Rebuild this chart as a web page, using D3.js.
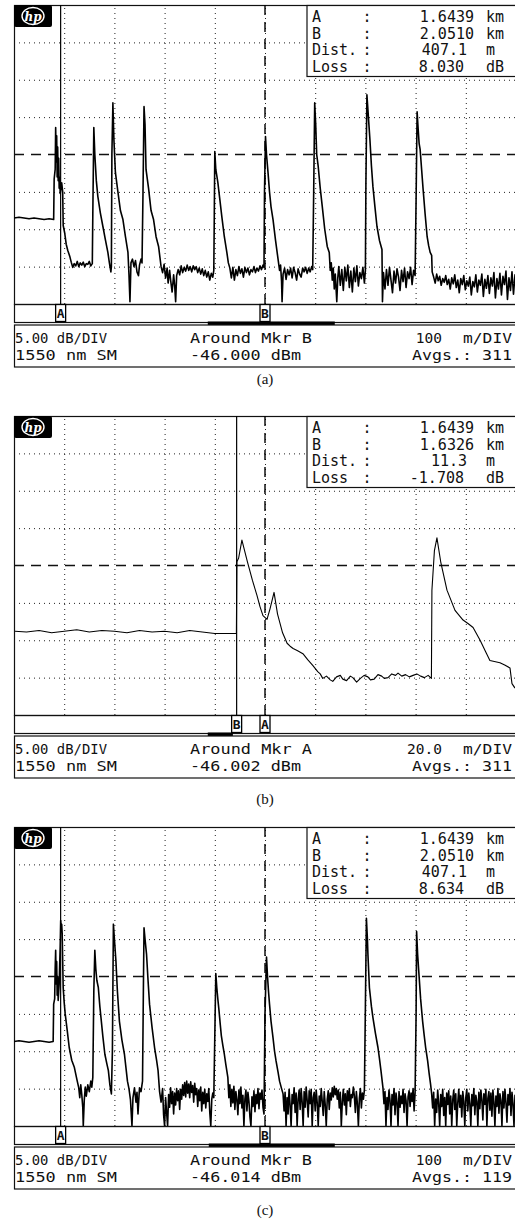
<!DOCTYPE html>
<html>
<head>
<meta charset="utf-8">
<script src="https://cdnjs.cloudflare.com/ajax/libs/d3/7.8.5/d3.min.js"></script>
<style>
body { margin: 0; background: #fff; }
svg { display: block; background: #fff; }
.mono { font-family: "DejaVu Sans Mono", "Liberation Mono", monospace; fill: #111; }
.grid line { stroke: #222; stroke-width: 1; stroke-dasharray: 1,4; }
.grid .domain { display: none; }
.trace { fill: none; stroke: #000; stroke-linejoin: round; }
.caption { font-family: "Liberation Serif", "DejaVu Serif", serif; font-size: 15px; fill: #111; }
</style>
</head>
<body>
<svg id="chart" width="515" height="1219"></svg>
<script>

// otdr traces, [metres from left edge of screen, dB above bottom line]
var traceA = [
    [0,11.5],[10,11.6],[20,11.5],[30,11.4],[40,11.5],[50,11.4],[60,11.3],[70,11.4],[79,11.3],
    [80,16.7],[82,18],[83,23.6],[84,19],[85,22.5],[86,17],[87,21],[88,16.5],[89,19.5],[90,15.5],[91,17],[92,14.8],[95,16.2],[97,15],[98,10.5],[101,9.5],[104,8],[107,7.2],[111,6.4],
    [114,5.6],[117,4.9],[120,5.4],[123,5.1],[126,5.7],[129,5.0],[132,5.5],[135,5.2],[138,5.6],[141,5.0],[144,5.4],[147,5.3],[150,5.7],[153,5.1],[156,5.4],
    [157,12],[159,23.6],[161,20],[164,16.5],[167,14.4],[172,12.2],[177,10.4],[182,8.6],[187,6.9],[190,5.5],[193,4.3],[194,5],
    [195,20],[197,26.9],[199,22],[202,17.6],[207,15],[212,12.5],[217,11.3],[222,9],[227,6.9],[229,4],[231,0.3],[233,5.5],[236,6],[239,5],[242,5.8],[245,4.3],[248,3.8],[250,5.2],[253,6],[255,5.5],
    [257,15],[259,26.4],[261,24],[263,18],[268,15.5],[273,12.5],[278,11.3],[283,9],[288,7.7],[293,5],
    [296,4.2],[299,5.3],[302,3.5],[305,4.8],[307,2.8],[310,4.5],[312,3.2],[315,1.6],[318,3.9],[320,2.5],[322,0.3],[324,3.8],[327,4.6],[330,3.9],[333,5.1],[336,4.2],[339,4.9],[342,4.4],[345,5.2],[348,4.5],[351,5.0],[354,4.3],[357,5.1],[360,4.6],[363,5.0],[366,4.2],[369,4.8],[372,4.0],[375,4.7],[378,3.8],[381,4.5],[384,3.6],[387,4.3],[390,3.2],[393,4.1],[396,3.6],[398,4.5],
    [399,12],[400,20.4],[402,18],[406,16.3],[410,14],[414,11.7],[419,9],[424,6.9],[427,5.5],[430,4.8],
    [433,3.5],[436,4.9],[439,3.2],[442,4.6],[445,3.8],[448,5.0],[451,4.1],[454,4.7],[457,3.6],[460,4.9],[463,4.2],[466,4.8],[469,3.9],[472,4.6],[475,4.3],[478,5.0],[481,4.2],[484,4.8],[487,4.4],[490,5.1],[493,4.6],[496,5.2],[498,4.9],
    [499,15],[501,22.4],[503,20],[506,17.6],[509,15],[512,13],[516,11.3],[521,8.5],[526,6],[529,4.5],[531,5.2],[533,3],[534,0.3],
    [536,4],[539,4.8],[542,3.3],[545,4.6],[548,3.9],[551,4.8],[554,3.5],[557,4.9],[560,4.2],[563,3.2],[566,4.7],[569,4.0],[572,3.6],[575,4.8],[578,4.3],[581,4.9],[584,4.1],[587,4.8],[590,4.3],[593,5.0],[595,4.6],
    [597,15],[599,26.9],[601,24],[603,20],[606,18.4],[610,15.5],[614,13.1],[619,10],[624,7.7],[628,6.9],[630,4.5],[632,5.5],[634,3.2],
    [636,4.8],[638,2],[640,4],[643,0.3],[645,3.5],[647,5],[650,2.5],[653,4.6],[656,1.8],[659,4.9],[662,3.1],[665,5.2],[668,2.2],[671,4.4],[674,1.6],[677,4.8],[680,3.0],[683,5.1],[686,2.4],[689,4.2],[692,3.4],[695,4.9],[698,2.8],[700,4.5],
    [701,16],[703,28],[705,26],[707,24],[709,22],[712,18.5],[715,15.7],[719,13],[723,10.4],[728,8.5],[733,7.3],[734,0.3],
    [736,4.2],[739,2.0],[742,4.6],[745,2.5],[748,4.9],[751,3.2],[754,1.5],[757,4.4],[760,2.8],[763,4.7],[766,3.6],[769,1.8],[772,4.5],[775,3.0],[778,4.8],[781,2.2],[784,4.3],[787,3.4],[790,4.9],[793,2.6],[796,4.5],[799,3.8],
    [801,14],[803,25.7],[805,23.5],[807,21.5],[809,20.7],[812,18],[815,15.3],[819,12],[823,9],[826,7.8],[829,6.9],[832,6.5],[833,4.3],
    [836,3.6],[839,2.8],[842,4.0],[845,3.1],[848,3.7],[851,2.5],[854,3.4],[857,2.9],[860,3.8],[863,2.6],[866,3.3],[869,2.0],[872,3.5],[875,2.7],[878,3.9],[881,2.2],[884,3.2],[887,1.5],[890,3.4],[893,2.6],[896,3.8],[899,1.9],[902,3.1],[905,2.4],[908,3.6],[911,1.2],[914,3.0],[917,2.3],[920,3.9],[923,1.6],[926,3.2],[929,2.5],[932,4.0],[935,1.0],[938,3.3],[941,2.1],[944,3.8],[947,1.4],[950,3.5],[953,2.4],[956,4.2],[959,0.8],[962,3.4],[965,2.0],[968,4.1],[971,1.2],[974,3.7],[977,2.6],[980,4.4],[983,0.6],[986,3.5],[989,1.8],[992,4.3],[995,1.3],[998,3.9],[1000,2.2]
];

var traceB = [
    [0.4,11.2],[5,11.1],[10,11.3],[15,11.0],[20,11.2],[25,11.4],[30,11.1],[35,11.3],[40,11.2],[45,11.0],[50,11.3],[55,11.1],[60,11.2],[65,11.0],[70,11.3],[75,11.1],[80,10.9],[84,10.9],[88.6,10.9],
    [88.8,20.5],[89.5,21],[90.8,23.4],[93,20.5],[95,18],[96.8,16],[98,14.5],[99.2,13.3],[100.8,12.8],[102,14.2],[102.8,15.3],[103.6,16.4],[105,13.5],[107,11],[108.8,9.6],[110,9.2],[111.2,8.9],[113,8.6],[115.1,8.2],[117,7.4],[119.1,6.6],[121,5.8],[122,5.5],
    [123,4.9],[124.5,5.2],[126,4.7],[127,4.5],[128.5,5.1],[130,5.3],[131,4.8],[132.5,4.6],[134,5.2],[135,5.0],[136.5,4.4],[138,4.9],[139.5,5.3],[141,5.1],[142,4.7],[143.5,4.8],[145,5.4],[146.5,5.2],[147.5,4.9],[149,5.0],[150.5,5.5],[152,5.3],[153,5.6],[154.5,5.2],[156,5.4],[157.5,5.1],[159,5.3],[160.5,5.5],[162,5.2],[163.5,5.0],[165,5.3],[166.3,4.9],
    [166.5,16.7],[167.5,22],[168.5,23.7],[170,20.5],[172.5,16.7],[175.7,14],[178.9,12.7],[181,12.2],[182.9,11.7],[185.7,10],[188,8.4],[189.6,7.3],[193.6,7],[195.5,6.7],[197.6,6.3],[198.4,4.2],[199.6,3.6]
];

var traceC = [
    [0,11.3],[10,11.4],[20,11.3],[30,11.2],[40,11.3],[50,11.4],[60,11.3],[70,11.2],[78,11.3],
    [79,16.3],[81,17],[82,21],[83,23.5],[84,19],[85,22],[86,17.5],[87,20],[88,16.8],[90,19],[92,24],[93,27.5],[94,26],[95,27],[96,25.7],[97,22],[98,18.5],[100,16.5],[102,15],[106,12.8],[110,10.5],[115,8.8],[120,7.9],[126,6],[129,5.1],
    [131,3.8],[133,5.5],[135,4.2],[137,2.5],[138,0],[140,3.5],[142,5.2],[144,4],[147,5.5],[150,4.6],[153,6],[155,5.2],[157,6.5],
    [159,18],[161,23.5],[163,21],[165,19.5],[168,18.5],[171,16],[174,14],[177,12],[181,9.6],[185,8.3],[188,7.4],[191,5.5],[194,4.3],
    [196,10],[198,27],[200,25],[203,22.1],[206,18],[210,14],[215,11.5],[220,9.6],[223,7.8],[226,6],[229,5],[232,3.5],[235,0],[237,3.8],[240,5.1],[243,3.2],[245,4.5],[247,1.6],[249,4],[250,5.1],[253,4.6],[256,6],
    [258,20],[259,26.5],[261,25],[264,23],[267,19.5],[270,16.3],[275,13.2],[280,10.5],[284,8.8],[287,7.4],[290,4.6],
    [293,3.2],[296,5.0],[298,1.5],[300,0],[302,3.8],[304,1.8],[306,0],[308,4.2],[310,2.5],[312,5.1],[314,3.0],[316,4.6],[318,1.6],[320,4.4],[322,2.8],[324,5.0],[326,3.4],[328,4.7],[330,2.2],[332,4.9],[334,3.6],[336,5.5],[338,4.1],[340,5.8],[342,3.9],[344,6.0],[346,4.4],[348,5.6],[350,3.8],[352,5.9],[354,4.5],[356,5.4],[358,3.2],[360,5.7],[362,4.2],[364,5.0],[366,2.6],[368,4.8],[370,3.4],[372,5.2],[374,2.0],[376,4.5],[378,3.0],[380,4.9],[382,2.4],[384,4.3],[386,3.3],[388,5.0],[390,1.8],[392,0],[394,3.6],[396,4.4],[398,3.8],
    [400,12],[402,20.4],[404,18.5],[406,17],[408,15.7],[411,13.5],[413,12.1],[416,10.8],[419,9.6],[422,8.2],[426,6.5],
    [428,3.8],[430,5.5],[432,2.6],[434,4.9],[436,3.1],[438,5.3],[440,2.2],[442,4.6],[444,3.5],[446,1.5],[448,4.8],[450,3.0],[452,5.2],[454,2.4],[456,4.1],[458,0],[460,3.6],[462,4.8],[464,2.0],[466,4.5],[468,3.3],[470,1.2],[472,0],[474,3.9],[476,2.6],[478,4.7],[480,1.9],[482,4.2],[484,3.0],[486,5.0],[488,2.3],[490,4.4],[492,3.6],[494,4.8],[496,2.5],[498,1.6],
    [500,15],[503,22.6],[505,20],[507,18],[509,16.3],[512,14],[516,11.8],[519,10],[522,8.7],[526,7.2],[529,6],[533,5],[536,4.3],
    [538,2.0],[540,4.5],[542,0],[544,3.8],[546,1.6],[548,4.9],[550,2.8],[552,0],[554,4.2],[556,3.0],[558,5.1],[560,1.8],[562,4.4],[564,0],[566,3.6],[568,4.8],[570,2.2],[572,5.0],[574,3.2],[576,0],[578,4.6],[580,2.5],[582,5.2],[584,3.4],[586,1.2],[588,4.7],[590,3.0],[592,4.9],[594,0],[596,3.8],[598,4.5],[600,2.0],[602,4.8],[604,3.1],[606,0],[608,4.0],[610,2.6],[612,5.0],[614,3.3],[616,1.4],[618,4.6],[620,2.8],[622,0],[624,3.6],[626,4.7],[628,2.2],[630,4.4],[632,3.5],[634,5.1],[636,3.9],[638,5.3],[640,4.2],[642,5.0],[644,3.6],[646,4.8],[648,2.4],[650,4.5],[652,0],[654,3.2],[656,4.9],[658,2.8],[660,4.3],[662,1.5],[664,4.7],[666,3.4],[668,5.0],[670,2.6],[672,4.2],[674,3.8],[676,5.2],[678,4.0],[680,1.8],[682,4.6],[684,3.0],[686,0],[688,3.7],[690,5.0],[692,2.4],[694,4.4],[696,3.6],[698,4.8],
    [700,16],[702,27.8],[704,25],[705,23],[707,20],[708,18.5],[712,16],[715,14.5],[720,12.4],[725,10.5],[728,9],[731,7.4],[735,5.1],
    [737,3.0],[739,4.6],[741,0],[743,3.8],[745,2.2],[747,4.8],[749,3.4],[751,0],[753,4.2],[755,2.8],[757,5.0],[759,1.5],[761,4.4],[763,3.2],[765,0],[767,4.6],[769,2.5],[771,4.0],[773,3.0],[775,4.9],[777,1.8],[779,4.3],[781,3.4],[783,0],[785,3.9],[787,4.7],[789,2.6],[791,4.4],[793,3.3],[795,5.0],[797,2.0],[799,4.5],
    [801,15],[802,26],[804,23],[807,20],[810,17],[814,14],[817,12.2],[820,10.5],[824,8.7],[827,7],[830,5.5],[832,4.3],
    [834,2.4],[836,4.5],[838,0],[840,3.6],[842,1.8],[844,4.8],[846,3.0],[848,0],[850,4.2],[852,2.6],[854,4.9],[856,1.4],[858,3.8],[860,0],[862,4.4],[864,2.9],[866,4.7],[868,1.6],[870,4.0],[872,0],[874,3.5],[876,4.8],[878,2.2],[880,4.3],[882,0],[884,3.1],[886,4.9],[888,2.5],[890,4.1],[892,1.2],[894,4.6],[896,3.3],[898,0],[900,3.8],[902,4.9],[904,2.0],[906,4.4],[908,3.0],[910,0],[912,4.2],[914,2.7],[916,5.0],[918,1.5],[920,4.1],[922,3.3],[924,0],[926,4.5],[928,2.3],[930,4.8],[932,3.5],[934,0.8],[936,4.3],[938,2.9],[940,4.9],[942,0],[944,3.7],[946,4.6],[948,2.1],[950,4.4],[952,1.3],[954,4.8],[956,3.2],[958,0],[960,4.0],[962,2.6],[964,5.0],[966,1.7],[968,4.3],[970,3.4],[972,0],[974,4.6],[976,2.4],[978,4.9],[980,3.1],[982,0.5],[984,4.2],[986,2.8],[988,5.0],[990,1.4],[992,4.5],[994,3.0],[996,0],[998,4.1],[1000,2.7]
];

// screen settings for each panel
var spanM = [1000, 200, 1000];
var aroundMkr = ["B", "A", "B"];
var markerAKm = [1.6439, 1.6439, 1.6439];
var markerBKm = [2.0510, 1.6326, 2.0510];
var scaleText = ["100", "20.0", "100"];
var refText = ["-46.000 dBm", "-46.002 dBm", "-46.014 dBm"];
var avgsText = ["311", "311", "119"];
var captions = ["(a)", "(b)", "(c)"];
// position of the zoom window inside the whole trace (fraction of screen width)
var zoomBar = [[0.386, 0.639], [0.386, 0.436], [0.388, 0.639]];

// readout box
var infoLabels = ["A", "B", "Dist.", "Loss"];
var infoUnits = ["km", "km", "m", "dB"];
var infoValues = [
    ["1.6439", "2.0510", "407.1", "8.030"],
    ["1.6439", "1.6326", "11.3", "-1.708"],
    ["1.6439", "2.0510", "407.1", "8.634"]
];

var traces = [traceA, traceB, traceC];
var traceWidth = [1.6, 1.1, 1.6];

// layout
var panelTop = [5, 416, 827];
var captionY = [384, 804, 1215];
var plotH = 299;
var x0 = 14, x1 = 516;

var svg = d3.select("#chart");

function draw_panel(i) {

    var top = panelTop[i];
    var bottom = top + plotH;
    var span = spanM[i];
    var centerKm = aroundMkr[i] === "A" ? markerAKm[i] : markerBKm[i];

    var x = d3.scaleLinear().domain([0, span]).range([x0, x1]);
    var xKm = d3.scaleLinear()
        .domain([centerKm - span / 2000, centerKm + span / 2000])
        .range([x0, x1]);
    var y = d3.scaleLinear().domain([0, 40]).range([bottom, top]);

    var g = svg.append("g");

    g.append("clipPath")
        .attr("id", "clip" + i)
        .append("rect")
        .attr("x", x0)
        .attr("y", top)
        .attr("width", x1 - x0)
        .attr("height", plotH);

    //dotted grid, 10 x 8 divisions
    g.append("g")
        .attr("class", "grid")
        .attr("transform", "translate(0," + bottom + ")")
        .call(d3.axisBottom(x)
            .tickValues(d3.range(1, 10).map(function (d) { return d * span / 10; }))
            .tickSize(-plotH)
            .tickFormat(""));

    g.append("g")
        .attr("class", "grid")
        .attr("transform", "translate(" + x0 + ",0)")
        .call(d3.axisLeft(y)
            .tickValues([5, 10, 15, 25, 30, 35])
            .tickSize(-(x1 - x0))
            .tickFormat(""));

    //reference level line
    g.append("line")
        .attr("x1", x0)
        .attr("x2", x1)
        .attr("y1", y(20))
        .attr("y2", y(20))
        .style("stroke", "#111")
        .style("stroke-width", 1.4)
        .style("stroke-dasharray", "10,7");

    //frame
    g.append("rect")
        .attr("x", x0 + 0.5)
        .attr("y", top + 0.5)
        .attr("width", x1 - x0)
        .attr("height", plotH)
        .style("fill", "none")
        .style("stroke", "#111")
        .style("stroke-width", 1.2);

    //markers
    var markers = [
        { name: "A", km: markerAKm[i] },
        { name: "B", km: markerBKm[i] }
    ];

    g.append("g")
        .selectAll("line")
        .data(markers)
        .enter()
        .append("line")
        .attr("x1", function (d) { return xKm(d.km); })
        .attr("x2", function (d) { return xKm(d.km); })
        .attr("y1", top)
        .attr("y2", bottom)
        .style("stroke", "#000")
        .style("stroke-width", function (d) { return d.name === aroundMkr[i] ? 1.4 : 1.2; })
        .style("stroke-dasharray", function (d) { return d.name === aroundMkr[i] ? "10,7" : null; });

    //trace
    g.append("path")
        .datum(traces[i])
        .attr("class", "trace")
        .attr("clip-path", "url(#clip" + i + ")")
        .style("stroke-width", traceWidth[i])
        .attr("d", d3.line()
            .x(function (d) { return x(d[0]); })
            .y(function (d) { return y(d[1]); }));

    //hp logo
    var logo = g.append("g");
    logo.append("rect")
        .attr("x", x0)
        .attr("y", top)
        .attr("width", 38)
        .attr("height", 22)
        .attr("rx", 2)
        .style("fill", "#000");
    logo.append("ellipse")
        .attr("cx", x0 + 19)
        .attr("cy", top + 11)
        .attr("rx", 11)
        .attr("ry", 8.5)
        .style("fill", "none")
        .style("stroke", "#fff")
        .style("stroke-width", 1.4);
    logo.append("text")
        .attr("x", x0 + 19)
        .attr("y", top + 15.5)
        .attr("text-anchor", "middle")
        .style("font-family", "'DejaVu Serif', serif")
        .style("font-style", "italic")
        .style("font-weight", "bold")
        .style("font-size", "12px")
        .style("fill", "#fff")
        .text("hp");

    //readout box
    var info = g.append("g");
    info.append("rect")
        .attr("x", 307)
        .attr("y", top + 0.5)
        .attr("width", 215)
        .attr("height", 71)
        .style("fill", "#fff")
        .style("stroke", "#111")
        .style("stroke-width", 1.2);

    var rowY = [17, 33.5, 50, 66.5];
    var valueEnd = [474, 474, 467, 464];

    infoLabels.forEach(function (lab, r) {
        info.append("text").attr("class", "mono")
            .attr("x", 312).attr("y", top + rowY[r])
            .style("font-size", "15px")
            .text(lab);
        info.append("text").attr("class", "mono")
            .attr("x", 367).attr("y", top + rowY[r])
            .attr("text-anchor", "middle")
            .style("font-size", "15px")
            .text(":");
        info.append("text").attr("class", "mono")
            .attr("x", valueEnd[r]).attr("y", top + rowY[r])
            .attr("text-anchor", "end")
            .style("font-size", "15px")
            .text(infoValues[i][r]);
        info.append("text").attr("class", "mono")
            .attr("x", 486).attr("y", top + rowY[r])
            .style("font-size", "15px")
            .text(infoUnits[r]);
    });

    //marker strip
    g.append("rect")
        .attr("x", x0 + 0.5)
        .attr("y", bottom + 0.5)
        .attr("width", x1 - x0)
        .attr("height", 18)
        .style("fill", "none")
        .style("stroke", "#111")
        .style("stroke-width", 1.2);

    var tags = g.append("g")
        .selectAll("g")
        .data(markers)
        .enter()
        .append("g")
        .attr("transform", function (d) {
            return "translate(" + xKm(d.km) + "," + bottom + ")";
        });
    tags.append("rect")
        .attr("x", -5)
        .attr("y", 0.5)
        .attr("width", 10)
        .attr("height", 17)
        .style("fill", "#fff")
        .style("stroke", "#000")
        .style("stroke-width", 1.3);
    tags.append("text")
        .attr("class", "mono")
        .attr("y", 14)
        .attr("text-anchor", "middle")
        .style("font-size", "13px")
        .style("font-weight", "bold")
        .text(function (d) { return d.name; });

    //zoom window bar
    g.append("rect")
        .attr("x", x0 + zoomBar[i][0] * (x1 - x0))
        .attr("y", bottom + 17.5)
        .attr("width", (zoomBar[i][1] - zoomBar[i][0]) * (x1 - x0))
        .attr("height", 3.5)
        .style("fill", "#000");

    //status box
    g.append("rect")
        .attr("x", x0 + 0.5)
        .attr("y", bottom + 21)
        .attr("width", x1 - x0)
        .attr("height", 42)
        .style("fill", "none")
        .style("stroke", "#111")
        .style("stroke-width", 1.2);

    var status = [
        { t: "5.00 dB/DIV", x: 15, w: 92, row: 0 },
        { t: "Around Mkr " + aroundMkr[i], x: 190, w: 122, row: 0 },
        { t: "m/DIV", x: 463, w: 49, row: 0 },
        { t: "1550 nm SM", x: 15, w: 102, row: 1 },
        { t: refText[i], x: 190, w: 111, row: 1 },
        { t: "Avgs.: " + avgsText[i], x: 412, w: 100, row: 1 }
    ];

    g.append("g")
        .selectAll("text")
        .data(status)
        .enter()
        .append("text")
        .attr("class", "mono")
        .attr("x", function (d) { return d.x; })
        .attr("y", function (d) { return bottom + (d.row === 0 ? 39 : 56); })
        .attr("textLength", function (d) { return d.w; })
        .attr("lengthAdjust", "spacingAndGlyphs")
        .style("font-size", "14.5px")
        .text(function (d) { return d.t; });

    g.append("text")
        .attr("class", "mono")
        .attr("x", 442)
        .attr("y", bottom + 39)
        .attr("text-anchor", "end")
        .style("font-size", "14.5px")
        .text(scaleText[i]);

    //caption
    svg.append("text")
        .attr("class", "caption")
        .attr("x", 265)
        .attr("y", captionY[i])
        .attr("text-anchor", "middle")
        .text(captions[i]);
}

[0, 1, 2].forEach(draw_panel);

</script>
</body>
</html>
